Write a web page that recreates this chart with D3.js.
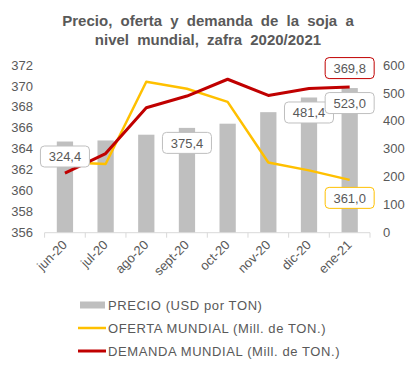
<!DOCTYPE html>
<html>
<head>
<meta charset="utf-8">
<script src="https://cdn.jsdelivr.net/npm/d3@7"></script>
<style>
  body { margin: 0; background: #fff; }
  text { font-family: "Liberation Sans", Arial, sans-serif; fill: #595959; }
</style>
</head>
<body>
<div id="chart"></div>
<script>
// data
const months = ["jun-20", "jul-20", "ago-20", "sept-20", "oct-20", "nov-20", "dic-20", "ene-21"];
const precio = [364.7, 364.8, 365.35, 366.0, 366.4, 367.5, 368.9, 369.8];
const oferta = [252, 246, 540, 515, 468, 251, 223, 189];
const demanda = [213, 283, 447, 489, 549, 491, 516, 521];
const leftTicks = [356, 358, 360, 362, 364, 366, 368, 370, 372];
const rightTicks = [0, 100, 200, 300, 400, 500, 600];
// data labels as shown in the picture
const barLabels = [
  {month: "jun-20", text: "324,4"},
  {month: "sept-20", text: "375,4"},
  {month: "dic-20", text: "481,4"},
  {month: "ene-21", text: "523,0"}
];
const ofertaLabels = [{month: "ene-21", text: "361,0"}];
const demandaLabels = [{month: "ene-21", text: "369,8"}];
const legendItems = [
  {name: "PRECIO (USD por TON)", type: "bar", color: "#bfbfbf"},
  {name: "OFERTA MUNDIAL (Mill. de TON.)", type: "line", color: "#ffc000"},
  {name: "DEMANDA MUNDIAL (Mill. de TON.)", type: "line", color: "#c00000"}
];

const width = 415, height = 370;
const svg = d3.select("#chart").append("svg")
    .attr("width", width)
    .attr("height", height);

const plotTop = 65, plotBottom = 232.7, plotLeft = 44.6, plotRight = 370;

const x = d3.scaleBand().domain(months).range([plotLeft, plotRight]).padding(0);
const yL = d3.scaleLinear().domain([356, 372]).range([plotBottom, plotTop]);
const yR = d3.scaleLinear().domain([0, 600]).range([plotBottom, plotTop]);
const barW = x.bandwidth() * 0.4;
const cx = m => x(m) + x.bandwidth() / 2;

// title
svg.append("text")
    .attr("x", 208).attr("y", 26)
    .attr("text-anchor", "middle")
    .style("font-size", "15px").style("font-weight", "bold")
    .style("word-spacing", "4px")
    .selectAll("tspan")
    .data(["Precio, oferta y demanda de la soja a", "nivel mundial, zafra 2020/2021"])
    .enter().append("tspan")
    .attr("x", 208)
    .attr("dy", (d, i) => i ? 19 : 0)
    .text(d => d);

// bars
svg.selectAll(".bar").data(months).enter().append("rect")
    .attr("class", "bar")
    .attr("x", (d) => cx(d) - barW / 2)
    .attr("width", barW)
    .attr("y", (d, i) => yL(precio[i]))
    .attr("height", (d, i) => plotBottom - yL(precio[i]))
    .attr("fill", "#bfbfbf");

// x axis line + ticks
svg.append("line")
    .attr("x1", plotLeft).attr("x2", plotRight)
    .attr("y1", plotBottom).attr("y2", plotBottom)
    .attr("stroke", "#d9d9d9");
svg.selectAll(".xtick").data(months.concat(["end"])).enter().append("line")
    .attr("x1", (d, i) => plotLeft + i * x.bandwidth())
    .attr("x2", (d, i) => plotLeft + i * x.bandwidth())
    .attr("y1", plotBottom).attr("y2", plotBottom + 5)
    .attr("stroke", "#d9d9d9");

svg.selectAll(".xlab").data(months).enter().append("text")
    .attr("transform", d => "translate(" + (cx(d) + 3) + "," + (plotBottom + 13) + ") rotate(-45)")
    .attr("text-anchor", "end")
    .style("font-size", "13px")
    .text(d => d);

// left axis labels
svg.selectAll(".ylab").data(leftTicks).enter().append("text")
    .attr("x", 33).attr("y", d => yL(d))
    .attr("dy", "0.35em")
    .attr("text-anchor", "end")
    .style("font-size", "13px")
    .text(d => d);

// right axis labels
svg.selectAll(".yrlab").data(rightTicks).enter().append("text")
    .attr("x", 383).attr("y", d => yR(d))
    .attr("dy", "0.35em")
    .style("font-size", "13px")
    .text(d => d);

// lines
const line = d3.line()
    .x((d, i) => cx(months[i]))
    .y(d => yR(d));

svg.append("path").datum(oferta)
    .attr("fill", "none").attr("stroke", "#ffc000")
    .attr("stroke-width", 2.5).attr("stroke-linejoin", "round")
    .attr("d", line);
svg.append("path").datum(demanda)
    .attr("fill", "none").attr("stroke", "#c00000")
    .attr("stroke-width", 3).attr("stroke-linejoin", "round")
    .attr("d", line);

// data label boxes
function addLabel(m, yCenter, text, border) {
  const g = svg.append("g").attr("transform", "translate(" + cx(m) + "," + yCenter + ")");
  g.append("rect")
      .attr("x", -24.5).attr("y", -10.5)
      .attr("width", 49).attr("height", 21)
      .attr("rx", 4)
      .attr("fill", "#fff")
      .attr("stroke", border);
  g.append("text")
      .attr("text-anchor", "middle")
      .attr("dy", "0.36em")
      .style("font-size", "13px")
      .text(text);
}
barLabels.forEach(l => {
  const i = months.indexOf(l.month);
  addLabel(l.month, yL(precio[i]) + 15, l.text, "#bfbfbf");
});
ofertaLabels.forEach(l => {
  const i = months.indexOf(l.month);
  addLabel(l.month, yR(oferta[i]) + 18, l.text, "#ffc000");
});
demandaLabels.forEach(l => {
  const i = months.indexOf(l.month);
  addLabel(l.month, yR(demanda[i]) - 19, l.text, "#c00000");
});

// legend
const leg = svg.selectAll(".leg").data(legendItems).enter().append("g")
    .attr("transform", (d, i) => "translate(80," + (305 + i * 23) + ")");
leg.each(function(d) {
  const g = d3.select(this);
  if (d.type === "bar") {
    g.append("rect").attr("x", 0).attr("y", -3.5).attr("width", 25).attr("height", 7).attr("fill", d.color);
  } else {
    g.append("line").attr("x1", -2).attr("x2", 26).attr("y1", 0).attr("y2", 0)
        .attr("stroke", d.color).attr("stroke-width", d.color === "#c00000" ? 3 : 2.5);
  }
});
leg.append("text")
    .attr("x", 28).attr("dy", "0.36em")
    .style("font-size", "13px")
    .style("letter-spacing", "0.6px")
    .text(d => d.name);
</script>
</body>
</html>
